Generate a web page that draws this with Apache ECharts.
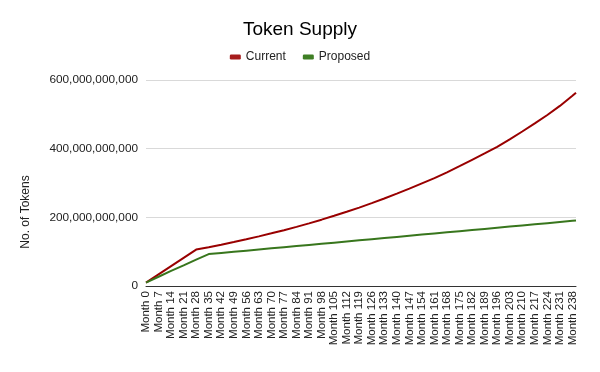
<!DOCTYPE html>
<html>
<head>
<meta charset="utf-8">
<script src="https://cdn.jsdelivr.net/npm/echarts@6/dist/echarts.min.js"></script>
<style>
html,body{margin:0;padding:0;background:#fff;}
#chart{width:600px;height:372px;}
</style>
</head>
<body>
<div id="chart"></div>
<script>
// Months at which values were read (labels every 7 months; data runs to month 240)
const months = [0,7,14,21,28,35,42,49,56,63,70,77,84,91,98,105,112,119,126,133,140,147,154,161,168,175,182,189,196,203,210,217,224,231,238,240];
// Values in billions of tokens
const currentB = [10,34,58,82,106,113,120.3,128,136.1,144.5,153.4,162.6,172.3,182.5,193.2,204.4,216.1,228.4,241.3,254.8,268.9,283.7,299,314,331,349,367.5,386,405.5,427,450,473.5,498,524.5,554,563];
const proposedB = [10,27,44,60,77,93,96.3,99.7,103,106.3,109.7,113,116.3,119.7,123,126.3,129.7,133,136.3,139.7,143,146.3,149.7,153,156.3,159.7,163,166.3,169.7,173,176.3,179.7,183,186.3,189.7,190.6];
const yTicksMax = 600e9;
const yInterval = 200e9;

const toPairs = arr => months.map((m, i) => [m, arr[i] * 1e9]);
const font = '"Liberation Sans", Arial, sans-serif';

const chart = echarts.init(document.getElementById('chart'), null, {renderer: 'canvas'});
chart.setOption({
  backgroundColor: '#ffffff',
  animation: false,
  title: {
    text: 'Token Supply',
    left: 'center',
    top: 15,
    textStyle: {fontFamily: font, fontSize: 19, fontWeight: 'normal', color: '#000'}
  },
  legend: {
    top: 46,
    left: 'center',
    itemWidth: 11,
    itemHeight: 5,
    itemGap: 17,
    icon: 'roundRect',
    textStyle: {fontFamily: font, fontSize: 12, color: '#222'},
    data: ['Current', 'Proposed']
  },
  grid: {left: 146, right: 24, top: 80, bottom: 86, containLabel: false},
  xAxis: {
    type: 'value',
    min: 0,
    max: 240,
    interval: 7,
    axisLine: {show: true, lineStyle: {color: '#333', width: 1}},
    axisTick: {show: false},
    splitLine: {show: false},
    axisLabel: {
      rotate: 90,
      margin: 5,
      showMaxLabel: false,
      fontFamily: font,
      fontSize: 11.5,
      color: '#222',
      formatter: v => 'Month ' + v
    }
  },
  yAxis: {
    type: 'value',
    min: 0,
    max: yTicksMax,
    interval: yInterval,
    axisLine: {show: false},
    axisTick: {show: false},
    splitLine: {lineStyle: {color: '#d9d9d9', width: 1}},
    axisLabel: {
      margin: 8,
      fontFamily: font,
      fontSize: 11.8,
      color: '#222',
      formatter: v => v.toLocaleString('en-US')
    }
  },
  graphic: [{
    type: 'text',
    x: 26,
    y: 212,
    rotation: Math.PI / 2,
    style: {
      text: 'No. of Tokens',
      font: '12px ' + font,
      fill: '#222',
      textAlign: 'center',
      textVerticalAlign: 'middle'
    }
  }],
  series: [
    {
      name: 'Current',
      type: 'line',
      data: toPairs(currentB),
      showSymbol: false,
      smooth: false,
      lineStyle: {color: '#990000', width: 2},
      itemStyle: {color: '#a61c1c'}
    },
    {
      name: 'Proposed',
      type: 'line',
      data: toPairs(proposedB),
      showSymbol: false,
      smooth: false,
      lineStyle: {color: '#38761d', width: 2},
      itemStyle: {color: '#3f7f25'}
    }
  ]
});
</script>
</body>
</html>
